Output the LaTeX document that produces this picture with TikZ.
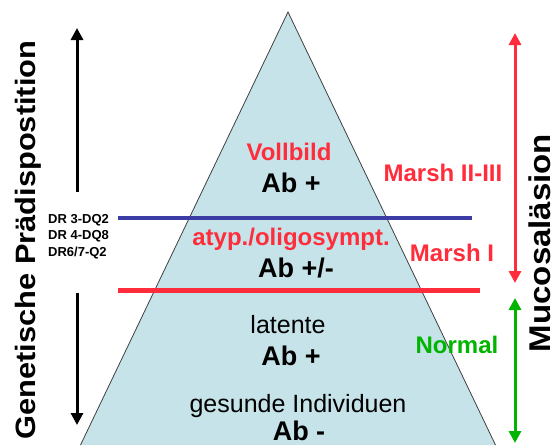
\documentclass[tikz,border=0pt]{standalone}
\usepackage{fontspec}
\setmainfont{Liberation Sans}
\newfontfamily\sidefont[FakeStretch=1.1]{Liberation Sans}
\usetikzlibrary{arrows.meta}
\definecolor{pyr}{RGB}{197,227,232}
\definecolor{lred}{RGB}{255,45,60}
\definecolor{lblue}{RGB}{60,60,165}
\definecolor{lgreen}{RGB}{0,180,0}

\begin{document}
\begin{tikzpicture}[
  x=1pt,y=-1pt,
  every node/.style={inner sep=0pt,anchor=base},
  stage/.style={text=lred,font=\fontsize{24}{28}\selectfont\bfseries},
  ab/.style={font=\fontsize{27}{30}\selectfont\bfseries},
  plain/.style={font=\fontsize{25}{28}\selectfont},
  side/.style={rotate=90},
  hla/.style={font=\fontsize{13}{15}\selectfont\bfseries,anchor=base west},
  bar/.style={line width=3pt,-{Triangle[length=12pt,width=12pt]}},
  both/.style={line width=3pt,{Triangle[length=12pt,width=12pt]}-{Triangle[length=12pt,width=12pt]}}
]
\useasboundingbox (0,0) rectangle (555,445);
% pyramid
\coordinate (top) at (288,12);
\coordinate (bl) at (80.5,445);
\coordinate (br) at (495.5,445);
\fill[pyr] (bl) -- (top) -- (br) -- cycle;
\draw[black!75,line width=0.8pt] (bl) -- (top) -- (br);

% level lines
\coordinate (bluel) at (118,218);
\coordinate (bluer) at (472,218);
\coordinate (redl) at (118,290);
\coordinate (redr) at (480,290);
\draw[lblue,line width=4pt] (bluel) -- (bluer);
\draw[lred,line width=5pt] (redl) -- (redr);

% stages
\node[stage] (vollbild) at (289,160) {Vollbild};
\node[ab] (abfull) at (291,192) {Ab +};
\node[stage] (atyp) at (291,245) {atyp./oligosympt.};
\node[ab] (abpart) at (296,277) {Ab +/-};
\node[plain] (latent) at (288,333) {latente};
\node[ab] (ablat) at (291,365) {Ab +};
\node[plain] (gesund) at (298,412) {gesunde Individuen};
\node[ab] (abneg) at (299,440) {Ab -};

% HLA types
\node[hla] (hla1) at (48,223) {DR 3-DQ2};
\node[hla] (hla2) at (48,239) {DR 4-DQ8};
\node[hla] (hla3) at (48,256) {DR6/7-Q2};

% genetic axis
\node[side,font=\sidefont\fontsize{28}{32}\selectfont\bfseries] (genlab) at (35,240) {Genetische Prädispostition};
\coordinate (gtop) at (77,28);
\coordinate (gup) at (77,192);
\coordinate (gdown) at (77,293);
\coordinate (gbot) at (77,425);
\draw[bar] (gup) -- (gtop);
\draw[bar] (gdown) -- (gbot);

% mucosa axis
\node[side,font=\sidefont\fontsize{30}{34}\selectfont\bfseries] (mucolab) at (550,243) {Mucosaläsion};
\node[stage] (marshhigh) at (443,181) {Marsh II-III};
\node[stage] (marshlow) at (452,261) {Marsh I};
\node[stage,text=lgreen] (normal) at (457,353) {Normal};
\coordinate (mtop) at (515,33);
\coordinate (mbot) at (515,283);
\coordinate (ntop) at (515,298);
\coordinate (nbot) at (515,443);
\draw[both,lred] (mtop) -- (mbot);
\draw[both,lgreen] (ntop) -- (nbot);
\end{tikzpicture}
\end{document}
